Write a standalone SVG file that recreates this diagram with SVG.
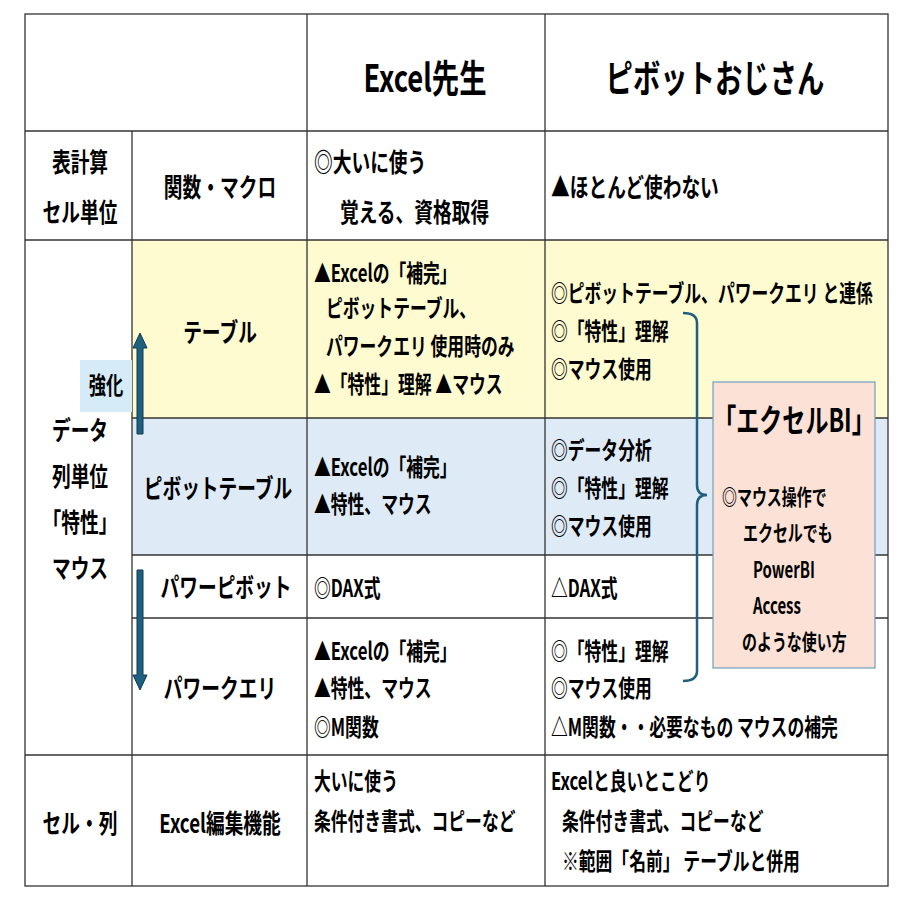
<svg xmlns="http://www.w3.org/2000/svg" width="900" height="900" viewBox="0 0 900 900">
<style>
text{font-family:"Noto Sans CJK JP","Liberation Sans",sans-serif;font-weight:bold;fill:#000}
.s{font-size:24px}.h{font-size:38px}.m{font-size:26px}
.g{stroke:#333;stroke-width:1.3;fill:none}
.ar{fill:#1f5f7f;stroke:#0f3a52;stroke-width:1}
</style>
<rect width="900" height="900" fill="#fff"/>
<g id="backgrounds">
<rect x="132" y="240" width="756" height="178" fill="#fefbd0"/>
<rect x="132" y="418" width="756" height="137" fill="#deeaf6"/>
</g>
<g id="grid" class="g">
<rect x="25" y="14" width="863" height="872"/>
<line x1="25" y1="131" x2="888" y2="131"/>
<line x1="25" y1="240" x2="888" y2="240"/>
<line x1="132" y1="418" x2="888" y2="418"/>
<line x1="132" y1="555" x2="888" y2="555"/>
<line x1="132" y1="618" x2="888" y2="618"/>
<line x1="25" y1="755" x2="888" y2="755"/>
<line x1="132" y1="131" x2="132" y2="886"/>
<line x1="307" y1="14" x2="307" y2="886"/>
<line x1="545" y1="14" x2="545" y2="886"/>
</g>
<g id="header">
<text class="h" transform="translate(425,92) scale(0.72,1)" text-anchor="middle">Excel先生</text>
<text class="h" transform="translate(715,92) scale(0.72,1)" text-anchor="middle">ピボットおじさん</text>
</g>
<g id="row-calc">
<text class="m" transform="translate(80,172) scale(0.72,1)" text-anchor="middle">表計算</text>
<text class="m" transform="translate(80,222) scale(0.72,1)" text-anchor="middle">セル単位</text>
<text class="m" transform="translate(220,197) scale(0.72,1)" text-anchor="middle">関数・マクロ</text>
<text class="m" transform="translate(314,172) scale(0.72,1)">◎大いに使う</text>
<text class="m" transform="translate(340,222) scale(0.72,1)">覚える、資格取得</text>
<text class="m" transform="translate(551,197) scale(0.72,1)">▲ほとんど使わない</text>
</g>
<g id="data-label">
<rect x="80" y="360" width="52" height="52" fill="#d5ebf7"/>
<text class="s" transform="translate(106,394) scale(0.72,1)" text-anchor="middle">強化</text>
<text class="m" transform="translate(80,440) scale(0.72,1)" text-anchor="middle">データ</text>
<text class="m" transform="translate(80,486) scale(0.72,1)" text-anchor="middle">列単位</text>
<text class="m" transform="translate(80,532) scale(0.72,1)" text-anchor="middle">「特性」</text>
<text class="m" transform="translate(80,578) scale(0.72,1)" text-anchor="middle">マウス</text>
</g>
<g id="connectors">
<polygon class="ar" points="137,434 137,348 133,348 140,333 147,348 143,348 143,434"/>
<polygon class="ar" points="137,570 137,675 133,675 140,690 147,675 143,675 143,570"/>
<path d="M683,313 Q697,313 697,323 L697,485 Q697,495 707,495 Q697,495 697,505 L697,671 Q697,681 683,681" fill="none" stroke="#1f5f7f" stroke-width="2.5"/>
</g>
<g id="row-table">
<text class="m" transform="translate(220,342) scale(0.72,1)" text-anchor="middle">テーブル</text>
<text class="s" transform="translate(314,282) scale(0.7,1)">▲Excelの「補完」</text>
<text class="s" transform="translate(326,317) scale(0.7,1)">ピボットテーブル、</text>
<text class="s" transform="translate(326,355) scale(0.7,1)">パワークエリ  使用時のみ</text>
<text class="s" transform="translate(314,393) scale(0.7,1)">▲「特性」理解  ▲マウス</text>
<text class="s" transform="translate(551,302) scale(0.7,1)">◎ピボットテーブル、パワークエリ  と連係</text>
<text class="s" transform="translate(551,340) scale(0.7,1)">◎「特性」理解</text>
<text class="s" transform="translate(551,378) scale(0.7,1)">◎マウス使用</text>
</g>
<g id="row-pivot">
<text class="m" transform="translate(218,498) scale(0.72,1)" text-anchor="middle">ピボットテーブル</text>
<text class="s" transform="translate(314,476) scale(0.7,1)">▲Excelの「補完」</text>
<text class="s" transform="translate(314,513) scale(0.7,1)">▲特性、マウス</text>
<text class="s" transform="translate(551,459) scale(0.7,1)">◎データ分析</text>
<text class="s" transform="translate(551,497) scale(0.7,1)">◎「特性」理解</text>
<text class="s" transform="translate(551,535) scale(0.7,1)">◎マウス使用</text>
</g>
<g id="row-powerpivot">
<text class="m" transform="translate(226,597) scale(0.72,1)" text-anchor="middle">パワーピボット</text>
<text class="s" transform="translate(314,597) scale(0.7,1)">◎DAX式</text>
<text class="s" transform="translate(551,597) scale(0.7,1)">△DAX式</text>
</g>
<g id="row-query">
<text class="m" transform="translate(220,698) scale(0.72,1)" text-anchor="middle">パワークエリ</text>
<text class="s" transform="translate(314,660) scale(0.7,1)">▲Excelの「補完」</text>
<text class="s" transform="translate(314,697) scale(0.7,1)">▲特性、マウス</text>
<text class="s" transform="translate(314,736) scale(0.7,1)">◎M関数</text>
<text class="s" transform="translate(551,660) scale(0.7,1)">◎「特性」理解</text>
<text class="s" transform="translate(551,697) scale(0.7,1)">◎マウス使用</text>
<text class="s" transform="translate(551,736) scale(0.7,1)">△M関数・・必要なもの  マウスの補完</text>
</g>
<g id="callout">
<rect x="713" y="382" width="162" height="286" fill="#fbe1d6" stroke="#6f9fbf" stroke-width="1.2"/>
<text transform="translate(794,432) scale(0.72,1)" text-anchor="middle" font-size="32">「エクセルBI」</text>
<text transform="translate(722,505) scale(0.68,1)" font-size="22">◎マウス操作で</text>
<text transform="translate(743,541) scale(0.68,1)" font-size="22">エクセルでも</text>
<text transform="translate(753,578) scale(0.68,1)" font-size="22">PowerBI</text>
<text transform="translate(753,614) scale(0.68,1)" font-size="22">Access</text>
<text transform="translate(742,650) scale(0.68,1)" font-size="22">のような使い方</text>
</g>
<g id="row-cell">
<text class="m" transform="translate(80,833) scale(0.72,1)" text-anchor="middle">セル・列</text>
<text class="m" transform="translate(220,833) scale(0.72,1)" text-anchor="middle">Excel編集機能</text>
<text class="s" transform="translate(314,790) scale(0.7,1)">大いに使う</text>
<text class="s" transform="translate(314,830) scale(0.7,1)">条件付き書式、コピーなど</text>
<text class="s" transform="translate(551,790) scale(0.7,1)">Excelと良いとこどり</text>
<text class="s" transform="translate(562,830) scale(0.7,1)">条件付き書式、コピーなど</text>
<text class="s" transform="translate(562,870) scale(0.7,1)">※範囲「名前」 テーブルと併用</text>
</g>
</svg>
